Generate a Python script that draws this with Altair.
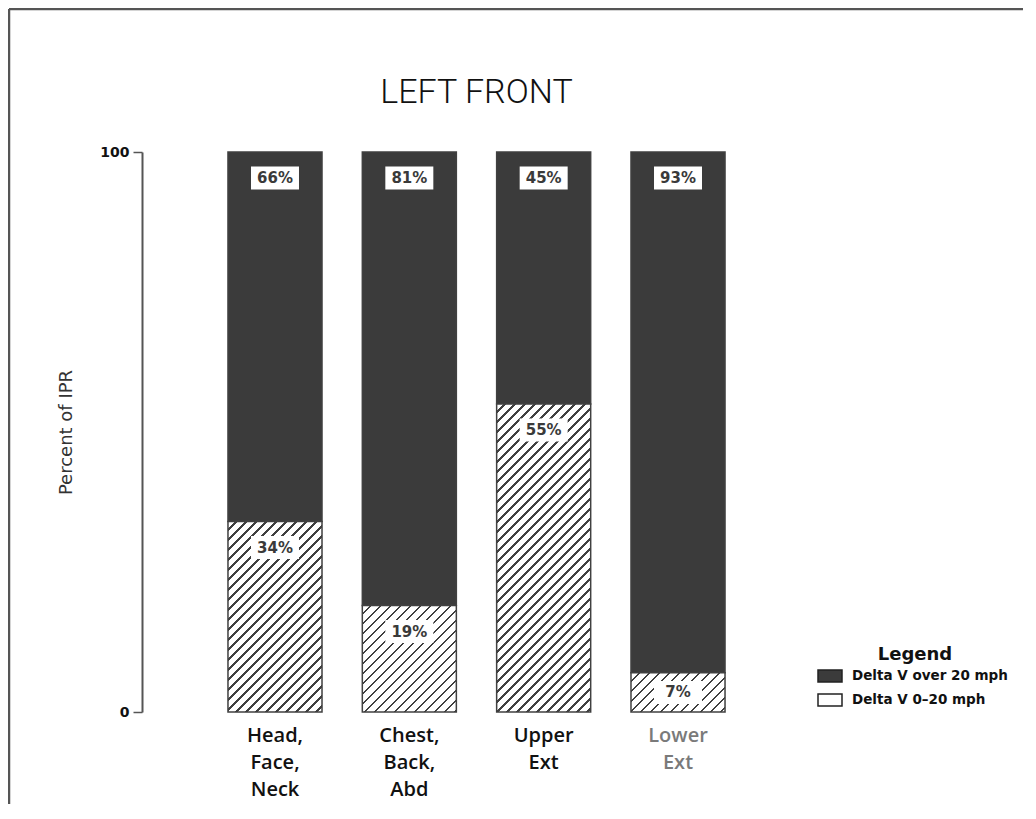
import altair as alt
import pandas as pd

categories = ["Head, Face, Neck", "Chest, Back, Abd", "Upper Ext", "Lower Ext"]
pct_over_20 = [66, 81, 45, 93]
pct_0_20 = [34, 19, 55, 7]
series_names = ["Delta V over 20 mph", "Delta V 0\u201320 mph"]
y_ticks = [0, 100]

rows = []
for c, hi, lo in zip(categories, pct_over_20, pct_0_20):
    rows.append({"category": c, "series": series_names[1], "start": 0, "end": lo, "pct": lo})
    rows.append({"category": c, "series": series_names[0], "start": lo, "end": lo + hi, "pct": hi})
df = pd.DataFrame(rows)

W, H = 669, 560
P_IN, P_OUT = 0.3, 0.64
STEP = W / (len(categories) - P_IN + 2 * P_OUT)
BW = STEP * (1 - P_IN)

DARK = "#3b3b3b"
EDGE = "#404040"
FONT = "DejaVu Sans"


def hatch(h, period=10.0, ink=0.27):
    w = BW
    a = w * (w + h) / (w * w + h * h)
    dt = period / (w + h)
    stops = []
    k = 0
    while k * dt < 1:
        t0 = round(k * dt, 5)
        t1 = round(min(k * dt + dt * (1 - ink), 1), 5)
        t2 = round(min(k * dt + dt, 1), 5)
        stops += [
            {"offset": t0, "color": "#ffffff"},
            {"offset": t1, "color": "#ffffff"},
            {"offset": t1, "color": EDGE},
            {"offset": t2, "color": EDGE},
        ]
        k += 1
    return {"gradient": "linear", "x1": 0, "y1": 0,
            "x2": round(a, 5), "y2": round(a * h / w, 5), "stops": stops}


def x_enc():
    return alt.X(
        "category:N", sort=categories,
        scale=alt.Scale(paddingInner=P_IN, paddingOuter=P_OUT),
        axis=alt.Axis(
            title=None, labelExpr="split(datum.label, ' ')", labelAngle=0,
            domain=False, ticks=False, labelFont="Open Sans", labelFontSize=20,
            labelFontWeight=600,
            labelLineHeight=27, labelPadding=13, labelBaseline="top",
            labelColor={"expr": "datum.value == 'Lower Ext' ? '#7a7a7a' : '#111111'"},
        ),
    )


def y_enc(field):
    return alt.Y(
        field, scale=alt.Scale(domain=[0, 100], nice=False),
        axis=alt.Axis(
            values=y_ticks, title="Percent of IPR", grid=False,
            titleFont=FONT, titleFontSize=18, titleFontWeight="normal",
            titleColor="#333333", titleX=-76, titleY=H / 2, titleBaseline="middle",
            labelFont=FONT, labelFontSize=14, labelFontWeight="bold",
            labelColor="#111111", labelPadding=4,
            tickSize=9, tickColor="#555555", tickWidth=1.5,
            domainColor="#555555", domainWidth=2,
        ),
    )


base = alt.Chart(df)

dark = base.transform_filter(alt.datum.series == series_names[0]).mark_bar(
    stroke=EDGE, strokeWidth=1.5
).encode(
    x=x_enc(),
    y=y_enc("start:Q"),
    y2="end:Q",
    color=alt.Color(
        "series:N",
        scale=alt.Scale(domain=series_names, range=[DARK, "#ffffff"]),
        legend=alt.Legend(
            title="Legend", orient="none", legendX=681, legendY=494,
            titleFont=FONT, titleFontSize=18, titleFontWeight="bold",
            titleColor="#111111", titleAnchor="middle", titlePadding=5,
            labelFont=FONT, labelFontSize=13.5, labelFontWeight="bold",
            labelColor="#111111", labelOffset=15,
            symbolType="M-2,-1L2,-1L2,1L-2,1Z", symbolSize=144,
            symbolStrokeColor="#222222", symbolStrokeWidth=1.5,
            rowPadding=6,
        ),
    ),
)

hatches = []
for c, lo in zip(categories, pct_0_20):
    hatches.append(
        base.transform_filter(
            (alt.datum.category == c) & (alt.datum.series == series_names[1])
        ).mark_bar(fill=hatch(lo / 100 * H), stroke=EDGE, strokeWidth=1.5).encode(
            x=x_enc(), y=y_enc("start:Q"), y2="end:Q"
        )
    )

lab = base.transform_calculate(
    lp="max(datum.end - 4.64, datum.end / 2)",
    lbl="datum.pct + '%'",
)

boxes = lab.mark_point(
    shape="M-1,-0.48L1,-0.48L1,0.48L-1,0.48Z", size=2304,
    filled=True, fill="#ffffff", opacity=1, strokeWidth=0,
).encode(x=x_enc(), y=y_enc("lp:Q"))

texts = lab.mark_text(
    font=FONT, fontWeight="bold", fontSize=15, color="#3a3a3a",
    baseline="middle", align="center",
).encode(x=x_enc(), y=y_enc("lp:Q"), text="lbl:N")

frame_df = pd.DataFrame({"f": [0]})
frame_left = alt.Chart(frame_df).mark_rule(color="#555555", strokeWidth=2.5).encode(
    x=alt.value(-133), y=alt.value(-143), y2=alt.value(H + 92)
)
frame_top = alt.Chart(frame_df).mark_rule(color="#555555", strokeWidth=2.5).encode(
    x=alt.value(-133), x2=alt.value(W + 212), y=alt.value(-143)
)

chart = alt.layer(dark, *hatches, boxes, texts, frame_left, frame_top).properties(
    width=W, height=H,
    title=alt.TitleParams("LEFT FRONT", font="Roboto", fontSize=34, fontWeight=300,
                          color="#111111", offset=0, dy=102),
    autosize="none",
    padding={"left": 134, "top": 144, "right": 212, "bottom": 92},
).configure_view(stroke=None)

chart.save("out.html", embed_options={"renderer": "svg", "actions": False})
